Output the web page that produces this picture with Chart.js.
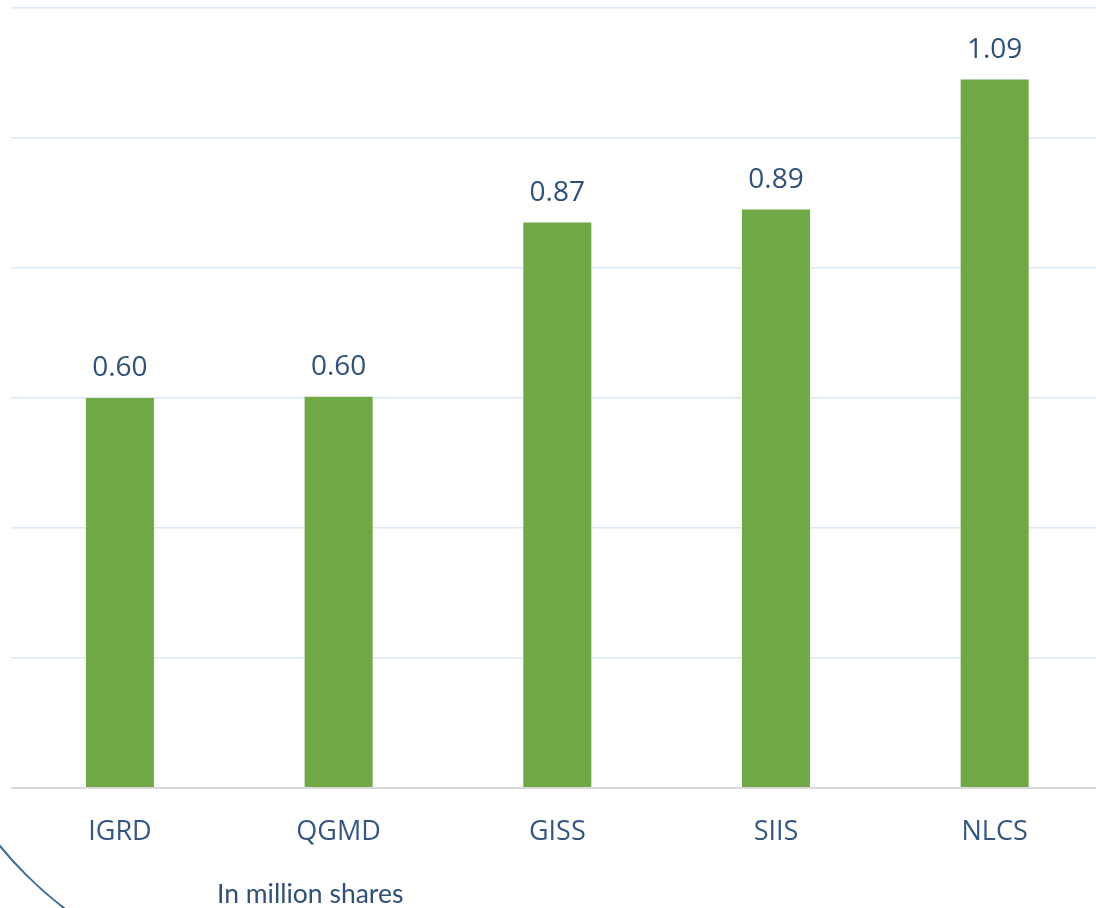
<!DOCTYPE html>
<html>
<head>
<meta charset="utf-8">
<script src="https://cdn.jsdelivr.net/npm/chart.js@4.4.1/dist/chart.umd.min.js"></script>
<style>
  html, body { margin: 0; padding: 0; background: #ffffff; overflow: hidden; }
  #wrap { position: relative; width: 1110px; height: 908px; }
</style>
</head>
<body>
<div id="wrap"><canvas id="c" width="1110" height="908"></canvas></div>
<script>
const categories = ['IGRD', 'QGMD', 'GISS', 'SIIS', 'NLCS'];
const volumes = [0.600, 0.602, 0.87, 0.89, 1.09];
const unitNote = 'In million shares';

const valueLabels = {
  id: 'valueLabels',
  afterDatasetsDraw(chart) {
    const ctx = chart.ctx;
    const meta = chart.getDatasetMeta(0);
    ctx.save();
    ctx.font = '28px "Open Sans"';
    ctx.fillStyle = '#2E5079';
    ctx.textAlign = 'center';
    ctx.textBaseline = 'alphabetic';
    meta.data.forEach((bar, i) => {
      ctx.fillText(volumes[i].toFixed(2), bar.x, bar.y - 22);
    });
    ctx.restore();
  }
};

const decor = {
  id: 'decor',
  afterDraw(chart) {
    const ctx = chart.ctx;
    ctx.save();
    ctx.beginPath();
    ctx.strokeStyle = '#3A6A9A';
    ctx.lineWidth = 2;
    ctx.arc(300, 600, 388, Math.PI * 0.5, Math.PI * 1.2);
    ctx.stroke();
    ctx.font = '26.5px Lato';
    ctx.fillStyle = '#2E5079';
    ctx.textAlign = 'left';
    ctx.textBaseline = 'alphabetic';
    ctx.fillText(unitNote, 217, 903);
    ctx.restore();
  }
};

new Chart(document.getElementById('c'), {
  type: 'bar',
  data: {
    labels: categories,
    datasets: [{
      data: volumes,
      backgroundColor: '#70A845',
      borderWidth: 0,
      barPercentage: 0.311,
      categoryPercentage: 1.0
    }]
  },
  options: {
    responsive: false,
    animation: false,
    layout: { padding: { left: 10.6, right: 6, top: 8, bottom: 0 } },
    plugins: { legend: { display: false }, tooltip: { enabled: false } },
    scales: {
      x: {
        grid: { display: false, drawTicks: false },
        border: { display: false },
        ticks: {
          color: '#34567F',
          font: { family: 'Open Sans', size: 27 },
          padding: 28
        },
        afterFit(scale) { scale.height = 120; }
      },
      y: {
        min: 0,
        max: 1.2,
        ticks: { display: false, stepSize: 0.2 },
        border: { display: false },
        grid: {
          drawTicks: false,
          color: (c) => c.tick && c.tick.value === 0 ? '#D9D9D9' : '#DCE8F5',
          lineWidth: (c) => c.tick && c.tick.value === 0 ? 2 : 1.5
        },
        afterFit(scale) { scale.width = 0; }
      }
    }
  },
  plugins: [valueLabels, decor]
});
</script>
</body>
</html>
